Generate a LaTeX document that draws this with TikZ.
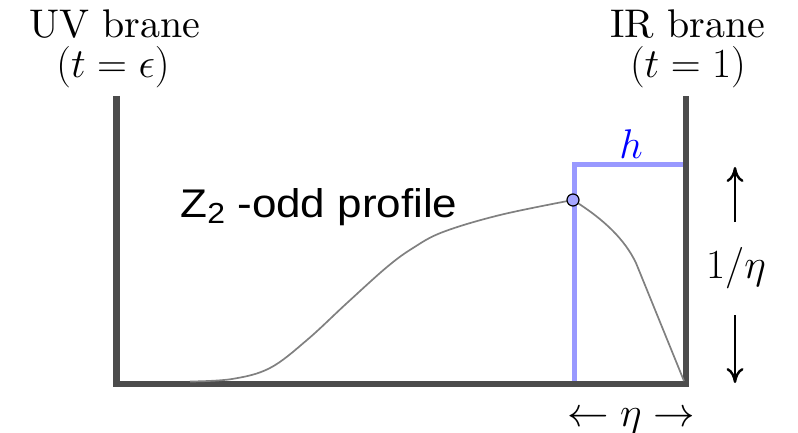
\documentclass[tikz,border=0pt]{standalone}
\usepackage{fontspec}
\newfontfamily\labelsans{Liberation Sans}
\newfontfamily\lmten{lmroman10-regular.otf}
\usetikzlibrary{arrows.meta}
\tikzset{
  wall/.style={draw=black!70, line width=3.2pt, line join=miter},
  ortho/.style={draw=blue!40, line width=2.5pt},
  profile/.style={draw=gray, line width=0.85pt},
  dimarrow/.style={draw=black, line width=1.2pt, -{Computer Modern Rightarrow[length=7.5pt,width=8.5pt]}},
  serif/.style={font=\fontsize{20}{20}\selectfont\lmten, inner sep=0pt, anchor=base},
}
\begin{document}
\begin{tikzpicture}[x=0.5pt,y=-0.5pt]
\useasboundingbox (0,0) rectangle (798,433);
% coordinates
\coordinate (tl) at (116.5,96);
\coordinate (bl) at (116.5,384);
\coordinate (br) at (686,384);
\coordinate (tr) at (686,96);
\coordinate (hb) at (574,384);
\coordinate (hc) at (574,165);
\coordinate (hr) at (686,165);
% blue h profile
\draw[ortho] (hb) -- (hc) -- (hr);
% walls
\draw[wall] (tl) -- (bl) -- (br) -- (tr);
% Z2-odd profile
\draw[profile] plot[smooth, tension=0.6] coordinates {(190,381.5) (232,379) (270,368) (307,340) (347,303) (387,267) (413,248) (443,232) (500,215) (573,200)};
\draw[profile] (573,200) .. controls (605,220) and (625,240) .. (636,263) -- (684,381);
\node[circle, draw=black, fill=blue!35, line width=0.6pt, minimum size=6pt, inner sep=0pt] (peak) at (573,200) {};
% labels
\node[serif] (uv1) at (115,38) {UV brane};
\node[serif] (uv2) at (113,78) {$(t=\epsilon)$};
\node[serif] (ir1) at (688,38) {IR brane};
\node[serif] (ir2) at (688,78) {$(t=1)$};
\node[serif, text=blue] (hlab) at (631,158) {$h$};
\node[inner sep=0pt, anchor=base] (zlab) at (319,217) {\scalebox{1.1}[1]{\labelsans\fontsize{20}{20}\selectfont Z\raisebox{-0.15em}{\fontsize{14.5}{14.5}\selectfont 2} -odd profile}};
\node[serif] (etainv) at (736,278) {$1/\eta$};
\node[serif] (etaw) at (631,426) {$\leftarrow\eta\rightarrow$};
% 1/eta arrows
\coordinate (ua0) at (735,222);
\coordinate (ua1) at (735,167);
\coordinate (da0) at (735,315);
\coordinate (da1) at (735,383);
\draw[dimarrow] (ua0) -- (ua1);
\draw[dimarrow] (da0) -- (da1);
\end{tikzpicture}
\end{document}
